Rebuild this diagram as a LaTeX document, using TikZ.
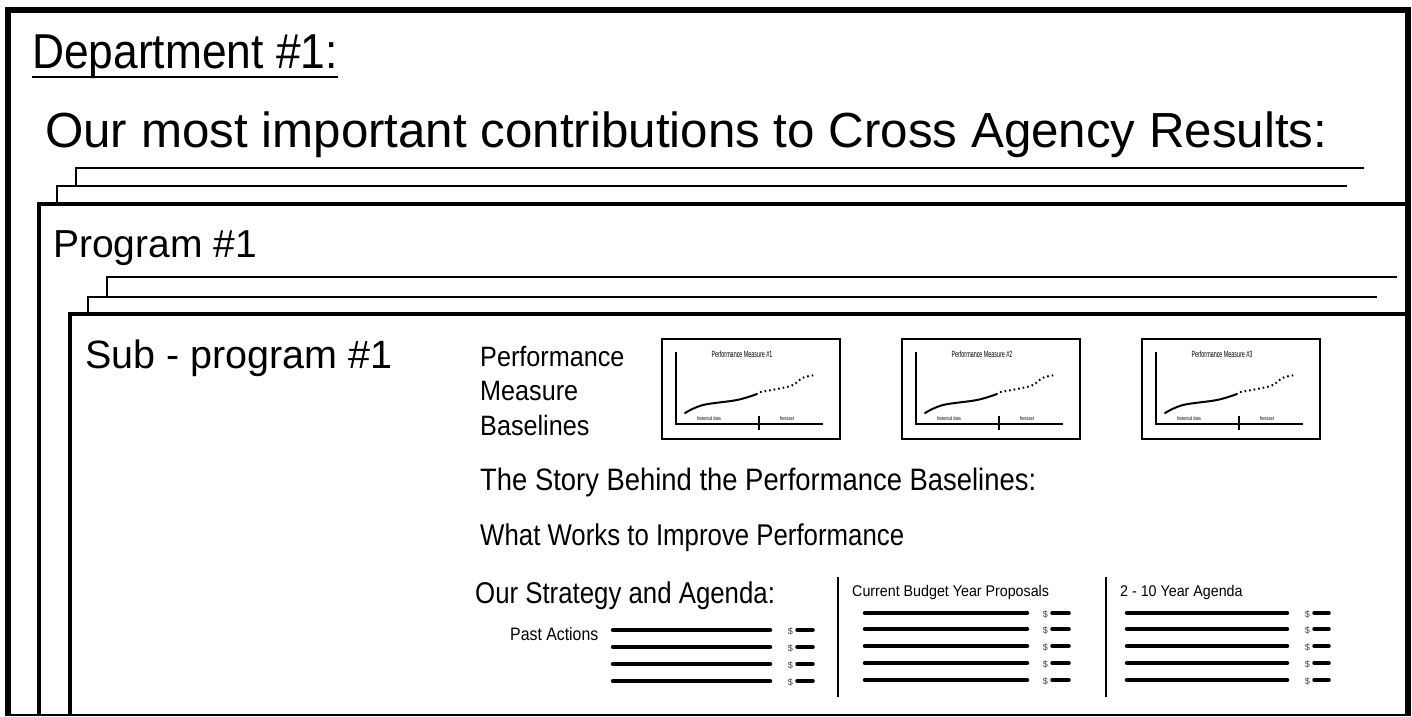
\documentclass[tikz,border=0pt]{standalone}
\usepackage{fontspec}
\setmainfont{Liberation Sans}
\usetikzlibrary{calc}
\newcommand{\fs}[1]{\fontsize{#1}{#1}\selectfont}
\newcommand{\cond}[2]{\scalebox{#1}[1]{#2}}
\tikzset{
  txt/.style={inner sep=0pt, anchor=base west, text=black},
  frame/.style={line width=4pt, line join=miter},
  stack/.style={line width=1.8pt, line join=miter},
  bar/.style={line width=4.5pt, line cap=round},
  cash/.style={line width=3.5pt, line cap=round},
  sep/.style={line width=2.5pt},
  dollar/.style={inner sep=0pt, anchor=east, font=\fs{9}, text=black!75},
}
\begin{document}
\begin{tikzpicture}[x=1pt,y=-1pt]
\useasboundingbox (0,0) rectangle (1412,716);
\fill[white] (0,0) rectangle (1412,716);
% outer department frame
\draw[line width=6pt, line join=miter] (8,716) -- (8,10) -- (1408,10) -- (1408,716);
\draw[line width=2pt] (8,715) -- (1408,715);
\node[txt, font=\fs{49}] (dept) at (32,68) {\cond{0.905}{Department \#1:}};
\draw[line width=2.5pt] ([yshift=-9pt]dept.base west) -- ([yshift=-9pt]dept.base east);
\node[txt, font=\fs{49.3}] (contrib) at (45,147) {Our most important contributions to Cross Agency Results:};
% program stack
\draw[stack] (76,185) -- (76,168) -- (1364,168);
\draw[stack] (57,202) -- (57,186) -- (1347,186);
\draw[frame] (39,716) -- (39,204) -- (1405,204);
\node[txt, font=\fs{39}] (prog) at (53,257) {Program \#1};
% sub-program stack
\draw[stack] (107,297) -- (107,277) -- (1397,277);
\draw[stack] (88,313) -- (88,297) -- (1377,297);
\draw[frame] (70,716) -- (70,314) -- (1405,314);
\node[txt, font=\fs{39.5}] (sub) at (85,368) {Sub - program \#1};
% performance measure baselines
\node[txt, font=\fs{28}] (pm1) at (480,366) {\cond{0.9}{Performance}};
\node[txt, font=\fs{28}] (pm2) at (480,400) {\cond{0.9}{Measure}};
\node[txt, font=\fs{28}] (pm3) at (480,435) {\cond{0.9}{Baselines}};
% charts
\foreach \i/\x in {1/662,2/902,3/1142}{
  \begin{scope}[shift={(\x,339)}]
    \draw[line width=2pt] (0,0) rectangle (178,100);
    \draw[line width=1.8pt] (14,13) -- (14,85) -- (161,85);
    \draw[line width=1.8pt] (97,77) -- (97,91);
    \node[inner sep=0pt, font=\fs{9}] (title\i) at (80,15) {\cond{0.6}{Performance Measure \#\i}};
    \node[inner sep=0pt, font=\fs{5.5}] (hist\i) at (47,80) {\cond{0.7}{historical data}};
    \node[inner sep=0pt, font=\fs{5.5}] (fore\i) at (125,80) {\cond{0.7}{forecast}};
    \draw[line width=2pt, line cap=round] plot[smooth, tension=0.6] coordinates {(23,74) (41,66) (75,61) (95,55)};
    \draw[line width=2pt, dash pattern=on 1.6pt off 3pt] plot[smooth, tension=0.6] coordinates {(98,53) (115,50) (131,46) (140,39) (153,36)};
  \end{scope}
}
% story texts
\node[txt, font=\fs{31}] (story) at (480,490) {\cond{0.884}{The Story Behind the Performance Baselines:}};
\node[txt, font=\fs{30}] (works) at (480,545) {\cond{0.86}{What Works to Improve Performance}};
\node[txt, font=\fs{30}] (strat) at (475,603) {\cond{0.86}{Our Strategy and Agenda:}};
\node[txt, font=\fs{18}] (past) at (510,640) {\cond{0.88}{Past Actions}};
\node[txt, font=\fs{15.5}] (curr) at (852,596) {\cond{0.92}{Current Budget Year Proposals}};
\node[txt, font=\fs{15.5}] (agenda) at (1120,596) {\cond{0.92}{2 - 10 Year Agenda}};
% separators
\draw[sep] (838,577) -- (838,697);
\draw[sep] (1106,577) -- (1106,697);
% column 1 rows
\foreach \y in {630,647,664,681}{
  \draw[bar] (613,\y) -- (770,\y);
  \node[dollar] at (793,\y+1) {\$};
  \draw[cash] (797,\y) -- (813,\y);
}
% column 2 and 3 rows
\foreach \y in {613,629,646,663,680}{
  \draw[bar] (865,\y) -- (1027,\y);
  \node[dollar] at (1048,\y+1) {\$};
  \draw[cash] (1052,\y) -- (1069,\y);
  \draw[bar] (1127,\y) -- (1287,\y);
  \node[dollar] at (1310,\y+1) {\$};
  \draw[cash] (1314,\y) -- (1329,\y);
}
\end{tikzpicture}
\end{document}
